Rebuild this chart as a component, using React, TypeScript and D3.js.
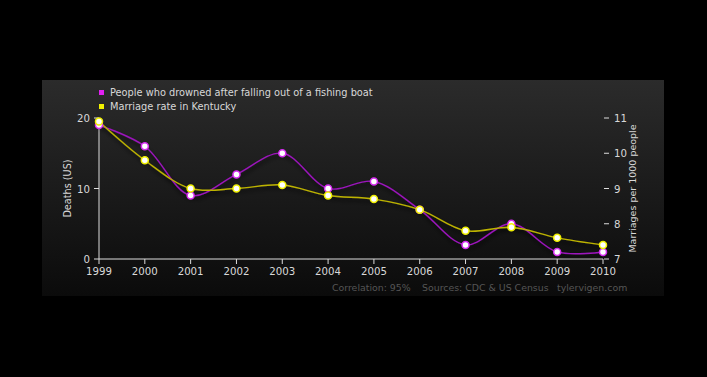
import React, { useEffect } from "react";
import * as d3 from "d3";

const years = [1999, 2000, 2001, 2002, 2003, 2004, 2005, 2006, 2007, 2008, 2009, 2010];
const drownings = [19, 16, 9, 12, 15, 10, 11, 7, 2, 5, 1, 1];
const marriageRate = [10.9, 9.8, 9.0, 9.0, 9.1, 8.8, 8.7, 8.4, 7.8, 7.9, 7.6, 7.4];
const leftTicks = [0, 10, 20];
const rightTicks = [7, 8, 9, 10, 11];
const legendLabels = ["People who drowned after falling out of a fishing boat", "Marriage rate in Kentucky"];
const footerParts = ["Correlation: 95%", "Sources: CDC & US Census", "tylervigen.com"];
const footerX = [332, 422, 557];

const W = 707, H = 377;
const panel = { x: 42, y: 80, w: 622, h: 216 };
const plot = { left: 99, right: 603, top: 118, bottom: 259 };
const PURPLE = "#9c14bc";
const PURPLE_PT = "#d62ef0";
const YELLOW = "#bdb300";
const YELLOW_PT = "#f0f000";
const FONT = "'DejaVu Sans', Verdana, sans-serif";

export default function App() {
  useEffect(() => {
    document.body.style.margin = "0";
    document.body.style.background = "#000";
  }, []);

  const x = d3.scalePoint<number>().domain(years).range([plot.left, plot.right]);
  const yL = d3.scaleLinear().domain([0, 20]).range([plot.bottom, plot.top]);
  const yR = d3.scaleLinear().domain([7, 11]).range([plot.bottom, plot.top]);

  const curve = d3.curveCatmullRom.alpha(0.5);
  const lineD = d3.line<number>().x((_, i) => x(years[i])!).y((d) => yL(d)).curve(curve)(drownings)!;
  const lineM = d3.line<number>().x((_, i) => x(years[i])!).y((d) => yR(d)).curve(curve)(marriageRate)!;

  const textCol = "#d8d8d8";

  return (
    <svg width={W} height={H} style={{ display: "block", background: "#000" }} fontFamily={FONT}>
      <defs>
        <linearGradient id="bg" x1="0" y1="0" x2="0" y2="1">
          <stop offset="0" stopColor="#2b2b2b" />
          <stop offset="1" stopColor="#0b0b0b" />
        </linearGradient>
        <filter id="shadow" x="-10%" y="-10%" width="120%" height="130%">
          <feDropShadow dx="1" dy="3" stdDeviation="2" floodColor="#000" floodOpacity="0.8" />
        </filter>
      </defs>
      <rect x={panel.x} y={panel.y} width={panel.w} height={panel.h} fill="url(#bg)" />

      {/* legend */}
      {legendLabels.map((l, i) => (
        <g key={l}>
          <rect x={99} y={90 + i * 14} width={5} height={5} fill={i === 0 ? "#e020f0" : "#f0f000"} />
          <text x={110} y={96 + i * 14} fontSize={9.8} fill={textCol}>{l}</text>
        </g>
      ))}

      {/* axes */}
      <line x1={plot.left} x2={plot.left} y1={plot.top} y2={plot.bottom} stroke="#ddd" strokeWidth={1} />
      <line x1={plot.left} x2={plot.right} y1={plot.bottom} y2={plot.bottom} stroke="#ddd" strokeWidth={1} />
      {leftTicks.map((t) => (
        <g key={t}>
          <line x1={plot.left - 5} x2={plot.left} y1={yL(t)} y2={yL(t)} stroke="#ddd" />
          <text x={plot.left - 9} y={yL(t) + 4} textAnchor="end" fontSize={10.2} fill={textCol}>{t}</text>
        </g>
      ))}
      {rightTicks.map((t) => (
        <g key={t}>
          <line x1={plot.right + 1} x2={plot.right + 6} y1={yR(t)} y2={yR(t)} stroke="#ddd" />
          <text x={plot.right + 11} y={yR(t) + 4} fontSize={10.2} fill={textCol}>{t}</text>
        </g>
      ))}
      {years.map((yr) => (
        <g key={yr}>
          <line x1={x(yr)!} x2={x(yr)!} y1={plot.bottom} y2={plot.bottom + 5} stroke="#ddd" />
          <text x={x(yr)!} y={plot.bottom + 16} textAnchor="middle" fontSize={10.2} fill={textCol}>{yr}</text>
        </g>
      ))}
      <text transform={`translate(71,${(plot.top + plot.bottom) / 2}) rotate(-90)`} textAnchor="middle" fontSize={9.7} fill={textCol}>Deaths (US)</text>
      <text transform={`translate(636,${(plot.top + plot.bottom) / 2}) rotate(-90)`} textAnchor="middle" fontSize={9.5} fill={textCol}>Marriages per 1000 people</text>

      {/* lines */}
      <g filter="url(#shadow)">
        <path d={lineD} fill="none" stroke={PURPLE} strokeWidth={1.4} />
        <path d={lineM} fill="none" stroke={YELLOW} strokeWidth={1.4} />
      </g>
      {drownings.map((d, i) => (
        <circle key={"d" + i} cx={x(years[i])!} cy={yL(d)} r={3.5} fill="#fff" stroke={PURPLE_PT} strokeWidth={1.5} />
      ))}
      {marriageRate.map((d, i) => (
        <circle key={"m" + i} cx={x(years[i])!} cy={yR(d)} r={3.5} fill="#fff" stroke={YELLOW_PT} strokeWidth={1.5} />
      ))}

      {footerParts.map((f, i) => (
        <text key={f} x={footerX[i]} y={291} fontSize={9.4} fill="#555">{f}</text>
      ))}
    </svg>
  );
}
